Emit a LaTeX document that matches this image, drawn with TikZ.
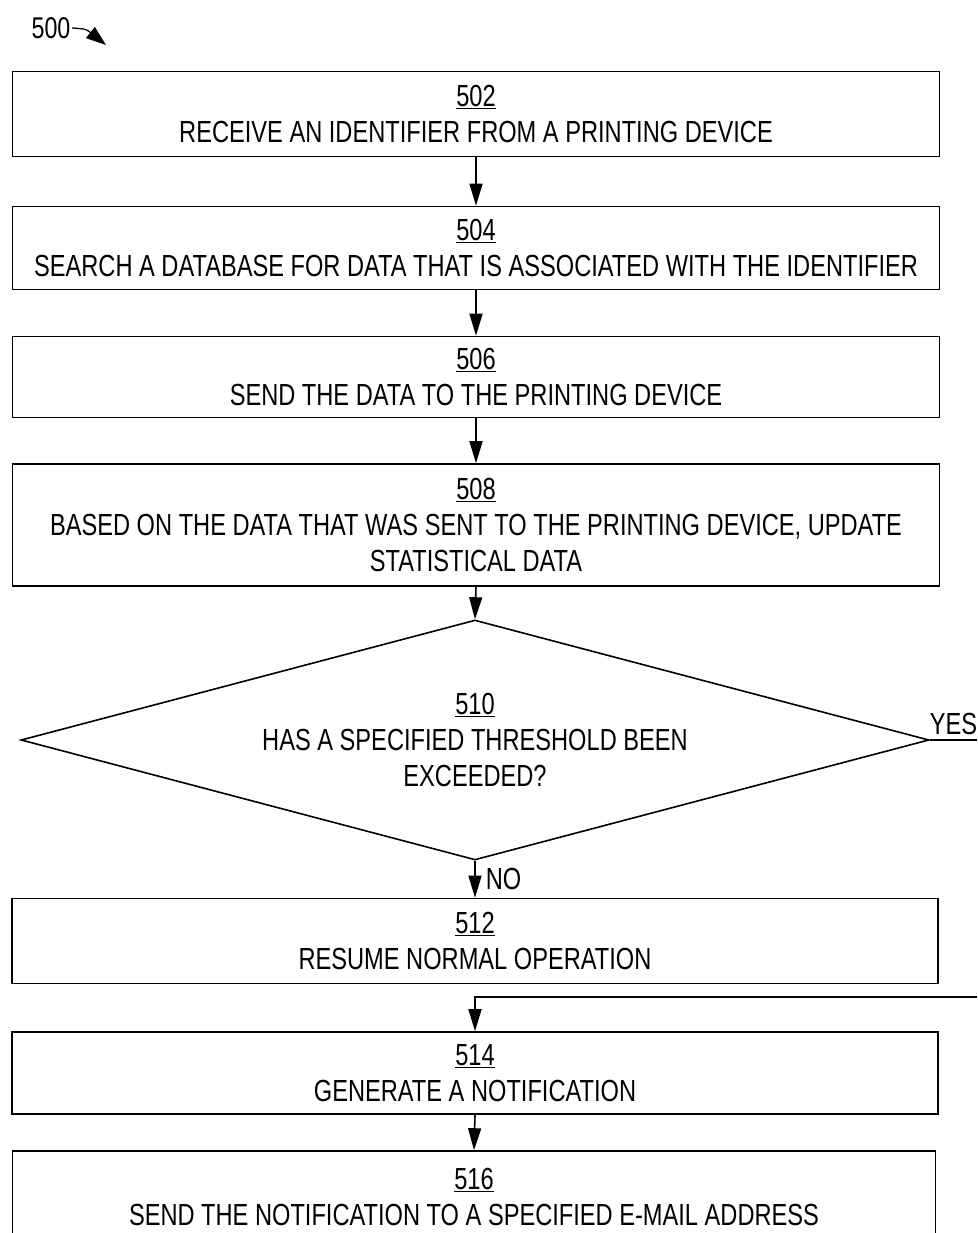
\documentclass[tikz,border=0pt]{standalone}
\usepackage{fontspec}
\setmainfont{Liberation Sans}[FakeStretch=0.775]
\usetikzlibrary{shapes.geometric,arrows.meta}
\newcommand\flowfont{\fontsize{30.5}{36}\selectfont}
\newcommand\reffont{\fontsize{30}{32}\selectfont}
\begin{document}
\begin{tikzpicture}[x=1pt,y=-1pt,line width=1.6pt,
  >={Triangle[length=22pt,width=13pt]},
  box/.style={draw, line width=1.6pt, minimum width=927pt, inner sep=0pt, align=center, font=\flowfont},
  dec/.style={draw, diamond, line width=1.6pt, aspect=3.78, minimum width=908pt, minimum height=240pt, inner sep=0pt, align=center, font=\flowfont},
  lab/.style={font=\flowfont, inner sep=1pt}]
\useasboundingbox (0,0) rectangle (977,1233);
\node[box, minimum height=85pt] (b502) at (476,114) {\underline{502}\\RECEIVE AN IDENTIFIER FROM A PRINTING DEVICE};
\node[box, minimum height=83pt] (b504) at (476,248) {\underline{504}\\SEARCH A DATABASE FOR DATA THAT IS ASSOCIATED WITH THE IDENTIFIER};
\node[box, minimum height=81pt] (b506) at (476,377) {\underline{506}\\SEND THE DATA TO THE PRINTING DEVICE};
\node[box, minimum height=122pt] (b508) at (476,525) {\underline{508}\\BASED ON THE DATA THAT WAS SENT TO THE PRINTING DEVICE, UPDATE\\STATISTICAL DATA};
\node[dec] (d510) at (475,740) {\underline{510}\\HAS A SPECIFIED THRESHOLD BEEN\\EXCEEDED?};
\node[box, minimum width=926pt, minimum height=85pt] (b512) at (475,941) {\underline{512}\\RESUME NORMAL OPERATION};
\node[box, minimum width=926pt, minimum height=82pt] (b514) at (475,1073) {\underline{514}\\GENERATE A NOTIFICATION};
\node[box, minimum width=923pt, minimum height=92pt] (b516) at (474,1197) {\underline{516}\\SEND THE NOTIFICATION TO A SPECIFIED E-MAIL ADDRESS};
\node[font=\reffont, inner sep=1pt] (n500) at (51,28) {500};
\coordinate (t500) at (106,45);
\draw[-{Triangle[length=20pt,width=14pt]}, line width=1.3pt] (n500.east) .. controls (86,29) .. (t500);
\draw[->] (b502.south) -- (b504.north);
\draw[->] (b504.south) -- (b506.north);
\draw[->] (b506.south) -- (b508.north);
\draw[->] (b508.south) -- (d510.north);
\draw[->] (d510.south) -- node[lab, right=9pt] (no) {NO} (b512.north);
\coordinate (yesend) at (977,740);
\draw (d510.east) -- (yesend);
\node[lab, anchor=south west, inner sep=0pt] (yes) at (929,736) {YES};
\coordinate (ret) at (977,997);
\draw[->] (ret) -| (b514.north);
\draw[->] (b514.south) -- (b516.north);
\end{tikzpicture}
\end{document}
